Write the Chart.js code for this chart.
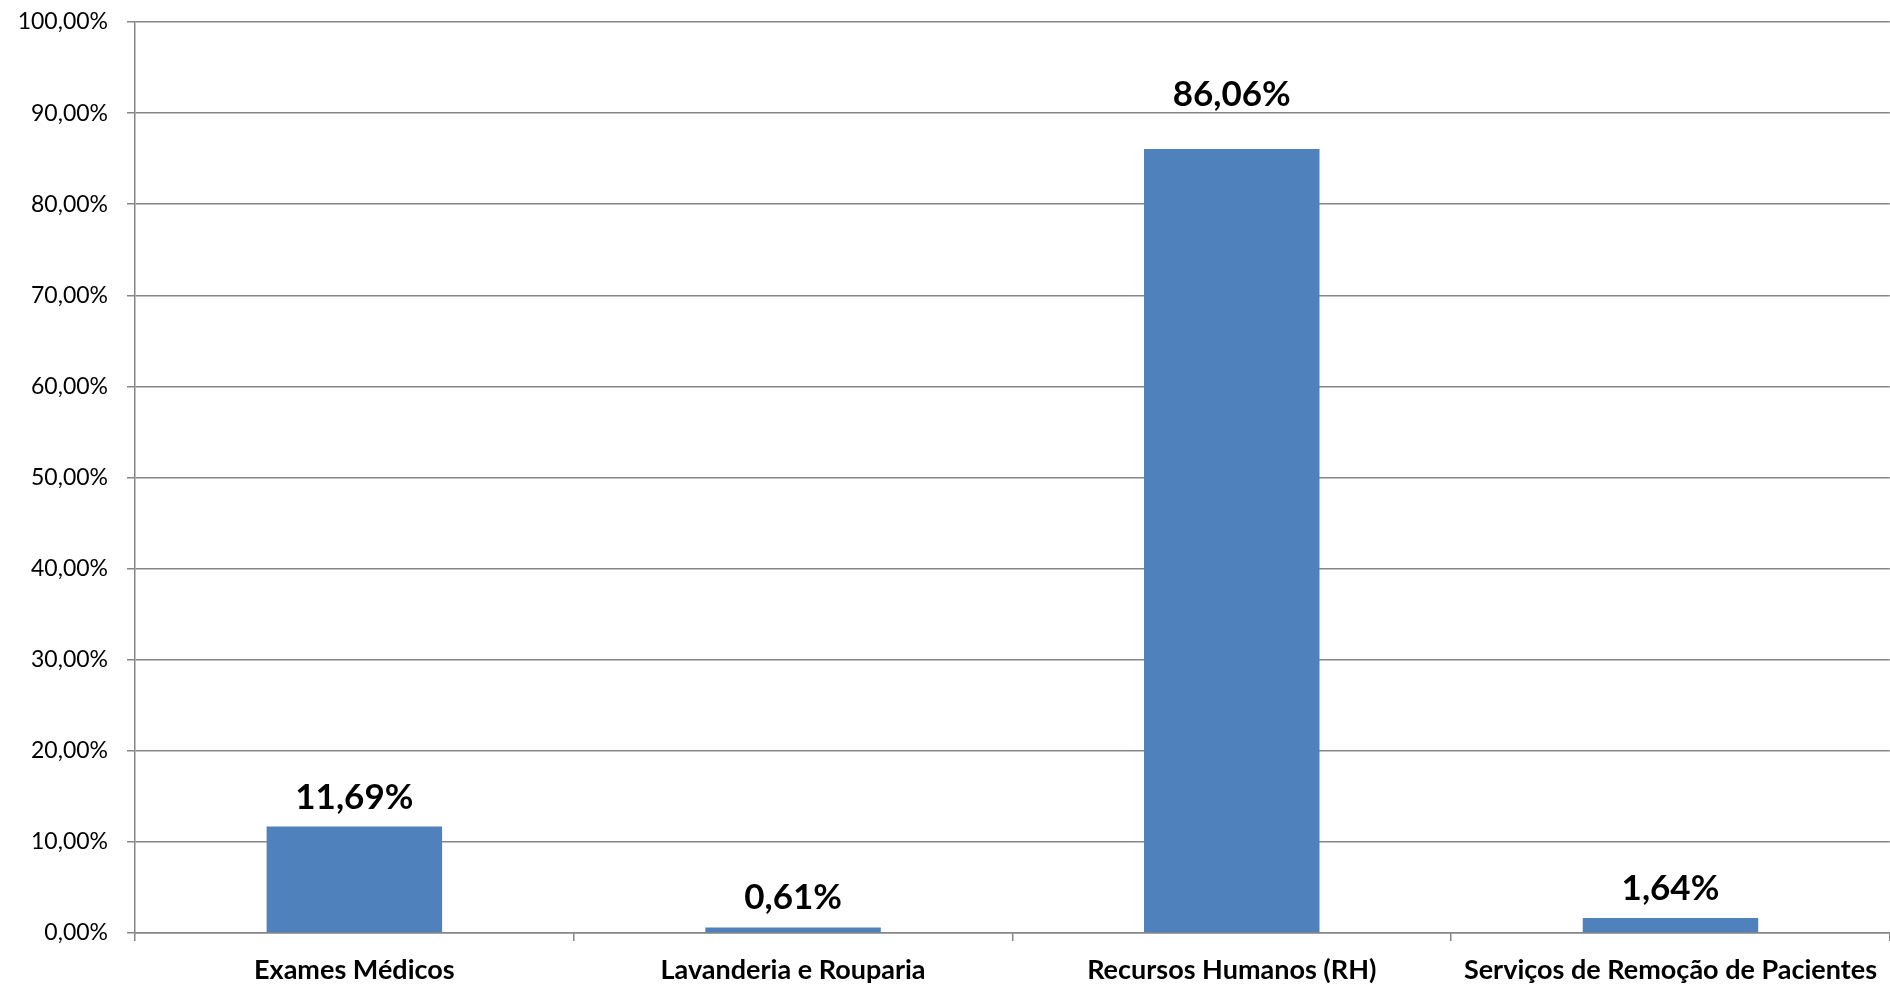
<!DOCTYPE html>
<html>
<head>
<meta charset="utf-8">
<script src="https://cdn.jsdelivr.net/npm/chart.js@4"></script>
<style>
  html, body { margin: 0; padding: 0; background: #fff; }
  #wrap { width: 1890px; height: 986px; }
</style>
</head>
<body>
<div id="wrap"><canvas id="grafico"></canvas></div>
<script>
// dados
const categorias = ['Exames Médicos', 'Lavanderia e Rouparia', 'Recursos Humanos (RH)', 'Serviços de Remoção de Pacientes'];
const percentuais = [11.69, 0.61, 86.06, 1.64];
const ticksY = [0, 10, 20, 30, 40, 50, 60, 70, 80, 90, 100];

const fmt = v => v.toFixed(2).replace('.', ',') + '%';

// rótulos em cima das barras
const rotulos = {
  id: 'rotulos',
  afterDatasetsDraw(chart, args, opts) {
    const ctx = chart.ctx;
    const meta = chart.getDatasetMeta(0);
    ctx.save();
    ctx.font = 'bold 35px Lato';
    ctx.fillStyle = '#000';
    ctx.textAlign = 'center';
    ctx.textBaseline = 'alphabetic';
    meta.data.forEach((bar, i) => {
      const extra = (opts.lift && opts.lift[i]) || 0;
      ctx.fillText(fmt(percentuais[i]), bar.x, bar.y - 18 - extra);
    });
    ctx.restore();
  }
};

new Chart(document.getElementById('grafico'), {
  type: 'bar',
  data: {
    labels: categorias,
    datasets: [{
      data: percentuais,
      backgroundColor: '#4F81BD',
      barPercentage: 0.4,
      categoryPercentage: 1
    }]
  },
  plugins: [rotulos],
  options: {
    responsive: true,
    maintainAspectRatio: false,
    animation: false,
    layout: { padding: { top: 22, right: 0, left: 0, bottom: 0 } },
    plugins: {
      legend: { display: false },
      tooltip: { enabled: false },
      rotulos: { lift: [0, 0, 25, 0] }
    },
    scales: {
      x: {
        grid: { offset: true, drawOnChartArea: false, color: '#868686', lineWidth: 1.5, tickLength: 8 },
        border: { color: '#868686', width: 1.5 },
        ticks: { color: '#000', font: { family: 'Lato', size: 27, weight: 'bold' }, padding: 13, maxRotation: 0 },
        afterFit(s) { s.height = 53; }
      },
      y: {
        min: 0,
        max: 100,
        afterBuildTicks(s) { s.ticks = ticksY.map(v => ({ value: v })); },
        grid: { color: '#868686', lineWidth: 1.5, tickLength: 8 },
        border: { color: '#868686', width: 1.5 },
        ticks: { color: '#000', font: { family: 'Lato', size: 23 }, padding: 19, callback: v => fmt(v) },
        afterFit(s) { s.width = 135; s.paddingTop = 0; s.paddingBottom = 0; }
      }
    }
  }
});
</script>
</body>
</html>
